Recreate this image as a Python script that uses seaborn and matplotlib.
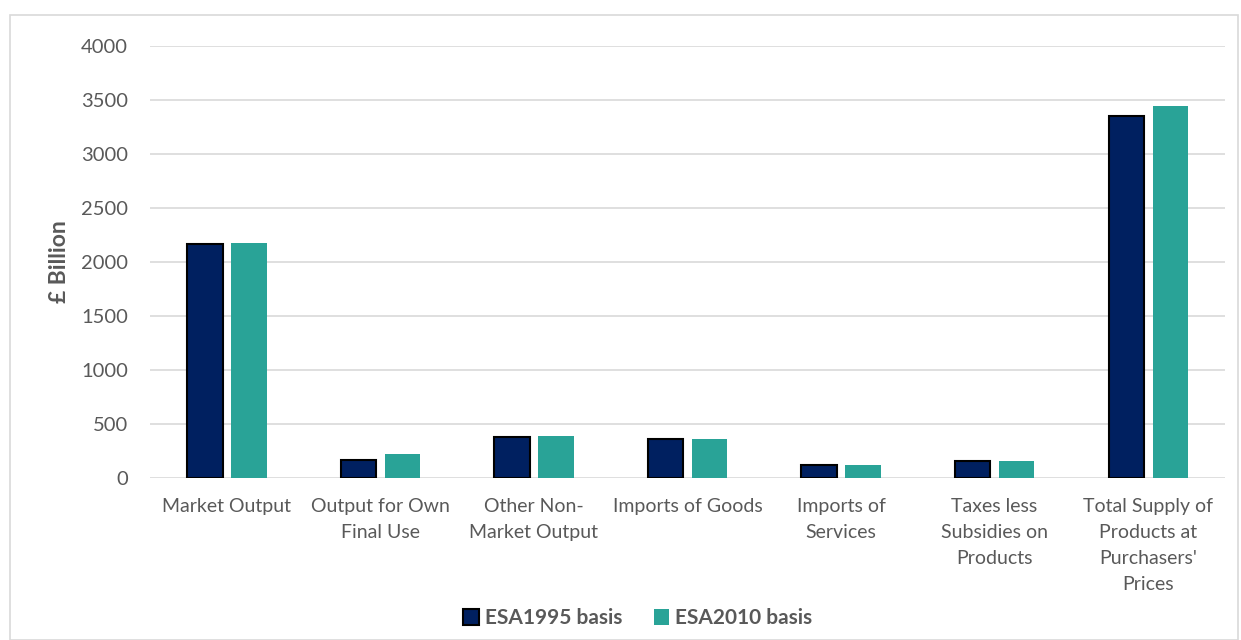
import matplotlib
matplotlib.use("Agg")
import matplotlib.pyplot as plt
import seaborn as sns
import pandas as pd
from matplotlib.patches import Patch, Rectangle

categories = ["Market Output", "Output for Own\nFinal Use", "Other Non-\nMarket Output",
              "Imports of Goods", "Imports of\nServices", "Taxes less\nSubsidies on\nProducts",
              "Total Supply of\nProducts at\nPurchasers'\nPrices"]
esa1995 = [2172, 167, 380, 366, 122, 161, 3352]
esa2010 = [2180, 224, 390, 364, 120, 156, 3444]
series_names = ["ESA1995 basis", "ESA2010 basis"]
yticks = [0, 500, 1000, 1500, 2000, 2500, 3000, 3500, 4000]

navy = "#002060"
teal = "#29A397"
txt = "#595959"

df = pd.DataFrame({
    "category": categories * 2,
    "value": esa1995 + esa2010,
    "series": [series_names[0]] * len(categories) + [series_names[1]] * len(categories),
})

sns.set_theme(style="white")
plt.rcParams["font.family"] = ["Lato", "DejaVu Sans"]

fig = plt.figure(figsize=(12.41, 6.4), dpi=100)
ax = fig.add_axes([0.121, 0.253, 0.866, 0.675])

sns.barplot(data=df, x="category", y="value", hue="series", order=categories,
            hue_order=series_names, palette=[navy, teal], width=0.573, gap=0.2,
            ax=ax, legend=False, saturation=1)

for bar in ax.containers[0]:
    bar.set_edgecolor("black")
    bar.set_linewidth(1.5)
for bar in ax.containers[1]:
    bar.set_edgecolor("none")

ax.set_xlim(-0.5, len(categories) - 0.5)
ax.set_ylim(0, 4000)
ax.set_yticks(yticks)
ax.set_yticklabels([str(v) for v in yticks], fontsize=14.5, color=txt)
ax.set_xticks(range(len(categories)))
ax.set_xticklabels(categories, fontsize=14, color=txt, linespacing=1.66, va="top")
ax.tick_params(axis="x", length=0, pad=14)
ax.tick_params(axis="y", length=0, pad=16)
ax.yaxis.grid(True, color="#d9d9d9", linewidth=1.2)
ax.set_axisbelow(True)
for s in ax.spines.values():
    s.set_visible(False)
ax.set_xlabel("")
ax.set_ylabel("£ Billion", fontsize=16.5, fontweight="bold", color=txt, labelpad=8)

handles = [Patch(facecolor=navy, edgecolor="black", linewidth=1.5),
           Patch(facecolor=teal, edgecolor="none")]
fig.legend(handles, series_names, loc="center", bbox_to_anchor=(0.514, 0.034), ncol=2,
           frameon=False, prop={"weight": "bold", "size": 15}, labelcolor=txt,
           handlelength=0.75, handleheight=0.75, handletextpad=0.3, columnspacing=1.5)

fig.patches.append(Rectangle((10 / 1241, 0), 1228 / 1241, 625 / 640, transform=fig.transFigure,
                             fill=False, edgecolor="#d9d9d9", linewidth=1.2))

fig.savefig("out.png", dpi=100)
